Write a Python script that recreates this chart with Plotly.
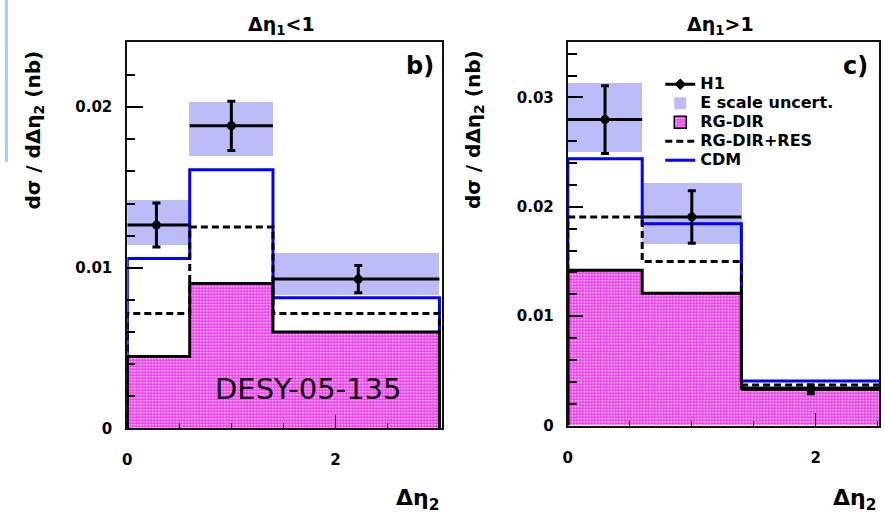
import plotly.graph_objects as go

# ---------------- data ----------------
bin_edges = [0.0, 0.6, 1.4, 3.0]

# panel b)  (Delta eta_1 < 1)
b_h1_x = [0.28, 1.0, 2.22]
b_h1_y = [0.01266, 0.01884, 0.0093]
b_h1_err = [0.00137, 0.00153, 0.00085]
b_band_lo = [0.01138, 0.01694, 0.00832]
b_band_hi = [0.01419, 0.02029, 0.01089]
b_cdm = [0.01058, 0.0161, 0.00813]
b_res = [0.00716, 0.01254, 0.00716]
b_dir = [0.00448, 0.00903, 0.00601]

# panel c)  (Delta eta_1 > 1)
c_h1_x = [0.30, 1.0, 1.96]
c_h1_y = [0.02797, 0.01907, 0.0033]
c_h1_err = [0.0031, 0.0024, 0.0004]
c_band_lo = [0.02498, 0.0166, 0.0031]
c_band_hi = [0.03127, 0.02213, 0.0036]
c_cdm = [0.02438, 0.01845, 0.00407]
c_res = [0.01907, 0.0150, 0.0037]
c_dir = [0.0142, 0.0121, 0.0034]

y_ticks_b = [0, 0.01, 0.02]
y_ticks_c = [0, 0.01, 0.02, 0.03]
x_ticks = [0, 2]

# ---------------- helpers ----------------
lo = bin_edges[:-1]
hi = bin_edges[1:]
centers = [(a + b) / 2 for a, b in zip(lo, hi)]
widths = [b - a for a, b in zip(lo, hi)]


def step_xy(vals):
    xs, ys = [bin_edges[0]], [0]
    for i, v in enumerate(vals):
        xs += [bin_edges[i], bin_edges[i + 1]]
        ys += [v, v]
    xs.append(bin_edges[-1])
    ys.append(0)
    return xs, ys


BAND = "#bcbcf8"
MAG = "#f03cf0"
BOLD = dict(family="DejaVu Sans", weight="bold", color="black")

fig = go.Figure()


def add_panel(xa, ya, h1x, h1y, h1e, blo, bhi, cdm, res, rdir, legend):
    fig.add_trace(go.Bar(x=centers, y=[h - l for h, l in zip(bhi, blo)], base=blo, width=widths,
                         marker=dict(color=BAND, line=dict(width=0)), name="E scale uncert.",
                         showlegend=legend, legendrank=2, xaxis=xa, yaxis=ya, hoverinfo="skip"))
    fig.add_trace(go.Bar(x=centers, y=rdir, width=widths,
                         marker=dict(color=MAG, line=dict(width=0),
                                     pattern=dict(shape=".", fgcolor="white", bgcolor=MAG,
                                                  size=3, solidity=0.25, fillmode="replace")),
                         showlegend=False, xaxis=xa, yaxis=ya, hoverinfo="skip"))
    x, y = step_xy(cdm)
    fig.add_trace(go.Scatter(x=x, y=y, mode="lines", line=dict(color="#0000ff", width=3),
                             name="CDM", showlegend=legend, legendrank=5, xaxis=xa, yaxis=ya))
    x, y = step_xy(res)
    fig.add_trace(go.Scatter(x=x, y=y, mode="lines", line=dict(color="black", width=3, dash="7px,4px"),
                             name="RG-DIR+RES", showlegend=legend, legendrank=4, xaxis=xa, yaxis=ya))
    x, y = step_xy(rdir)
    fig.add_trace(go.Scatter(x=x, y=y, mode="lines", line=dict(color="black", width=3),
                             showlegend=False, xaxis=xa, yaxis=ya))
    fig.add_trace(go.Scatter(x=h1x, y=h1y, mode="markers",
                             marker=dict(color="black", size=9),
                             error_y=dict(type="data", array=h1e, color="black", thickness=3, width=4),
                             error_x=dict(type="data", symmetric=False,
                                          array=[h - xv for h, xv in zip(hi, h1x)],
                                          arrayminus=[xv - l for xv, l in zip(h1x, lo)],
                                          color="black", thickness=3, width=0),
                             showlegend=False, xaxis=xa, yaxis=ya))


add_panel("x", "y", b_h1_x, b_h1_y, b_h1_err, b_band_lo, b_band_hi, b_cdm, b_res, b_dir, False)
add_panel("x2", "y2", c_h1_x, c_h1_y, c_h1_err, c_band_lo, c_band_hi, c_cdm, c_res, c_dir, True)

# legend-only entries
fig.add_trace(go.Scatter(x=[None], y=[None], mode="lines+markers", name="H1",
                         line=dict(color="black", width=3), marker=dict(color="black", size=9, symbol="diamond"),
                         legendrank=1, xaxis="x2", yaxis="y2"))
fig.add_trace(go.Bar(x=[None], y=[None], name="RG-DIR", legendrank=3,
                     marker=dict(color=MAG, line=dict(color="black", width=1.5),
                                 pattern=dict(shape=".", fgcolor="white", bgcolor=MAG, size=3, solidity=0.25,
                                              fillmode="replace")),
                     xaxis="x2", yaxis="y2"))

# wrap legend names in larger font span (spacing controlled by legend font size)
for tr in fig.data:
    if tr.showlegend is not False and tr.name:
        tr.name = '<span style="font-size:16px">' + tr.name + '</span>'

W, H = 885, 521


def px(xp):
    return xp / W


def py(yp):
    return 1 - yp / H


axis_common = dict(showline=True, mirror=True, linecolor="#111", linewidth=2, showgrid=False,
                   zeroline=False, ticks="inside", tickcolor="black", tickfont=dict(size=15, **BOLD))

fig.update_layout(
    width=W, height=H, autosize=False,
    margin=dict(l=0, r=0, t=0, b=0),
    paper_bgcolor="white", plot_bgcolor="white",
    barmode="overlay", bargap=0,
    xaxis=dict(domain=[px(123), px(439)], range=[0, 3.02], anchor="y",
               tickmode="array", tickvals=x_ticks, ticktext=[str(v) for v in x_ticks],
               ticklen=13, tickwidth=1, ticklabelstandoff=17,
               minor=dict(tickmode="linear", tick0=0, dtick=0.5, ticks="inside", ticklen=5,
                          tickcolor="black", tickwidth=1), **axis_common),
    yaxis=dict(domain=[py(436), py(43)], range=[0, 0.02404], anchor="x",
               tickmode="array", tickvals=y_ticks_b, ticktext=["0", "0.01", "0.02"],
               ticklen=16, tickwidth=1.5, ticklabelstandoff=10,
               minor=dict(tickmode="linear", tick0=0, dtick=0.002, ticks="inside", ticklen=8,
                          tickcolor="black", tickwidth=1.5), **axis_common),
    xaxis2=dict(domain=[px(566), px(879)], range=[0, 2.51], anchor="y2",
                tickmode="array", tickvals=x_ticks, ticktext=[str(v) for v in x_ticks],
                ticklen=13, tickwidth=1, ticklabelstandoff=17,
                minor=dict(tickmode="linear", tick0=0, dtick=0.5, ticks="inside", ticklen=5,
                           tickcolor="black", tickwidth=1), **axis_common),
    yaxis2=dict(domain=[py(433), py(43)], range=[0, 0.03504], anchor="x2",
                tickmode="array", tickvals=y_ticks_c, ticktext=["0", "0.01", "0.02", "0.03"],
                ticklen=15, tickwidth=1.5, ticklabelstandoff=9,
                minor=dict(tickmode="linear", tick0=0, dtick=0.002, ticks="inside", ticklen=9,
                           tickcolor="black", tickwidth=1.5), **axis_common),
    legend=dict(x=px(659), y=py(71), xanchor="left", yanchor="top", bgcolor="rgba(0,0,0,0)",
                font=dict(size=12, **BOLD), traceorder="normal", itemwidth=30,
                tracegroupgap=0),
    showlegend=True,
)

ann = [
    dict(text="Δη<sub>1</sub>&lt;1", x=px(278), y=py(26), size=19, bold=True),
    dict(text="Δη<sub>1</sub>&gt;1", x=px(720), y=py(26), size=19, bold=True),
    dict(text="dσ / dΔη<sub>2</sub> (nb)", x=px(29), y=py(132), size=20, bold=True, angle=-90),
    dict(text="dσ / dΔη<sub>2</sub> (nb)", x=px(471), y=py(132), size=20, bold=True, angle=-90),
    dict(text="Δη<sub>2</sub>", x=px(438), y=py(508), size=22, bold=True, xanchor="right"),
    dict(text="Δη<sub>2</sub>", x=px(878), y=py(508), size=22, bold=True, xanchor="right"),
    dict(text="b)", x=px(417), y=py(67), size=24, bold=True),
    dict(text="c)", x=px(855), y=py(67), size=24, bold=True),
    dict(text="DESY-05-135", x=px(305), y=py(396), size=29, bold=False),
]
for a in ann:
    f = dict(family="DejaVu Sans", size=a["size"], color="black")
    if a["bold"]:
        f["weight"] = "bold"
    fig.add_annotation(text=a["text"], x=a["x"], y=a["y"], xref="paper", yref="paper",
                       xanchor=a.get("xanchor", "center"), yanchor="middle",
                       textangle=a.get("angle", 0), showarrow=False, font=f)

fig.add_shape(type="rect", xref="paper", yref="paper", x0=0, x1=px(3), y0=py(165), y1=1,
              fillcolor="#a8ccff", line=dict(width=0), layer="below")

fig.write_html("out.html", config={"displayModeBar": False},
               post_script="document.body.style.margin='0';document.body.style.padding='0';"
                           "document.body.style.overflow='hidden';")
